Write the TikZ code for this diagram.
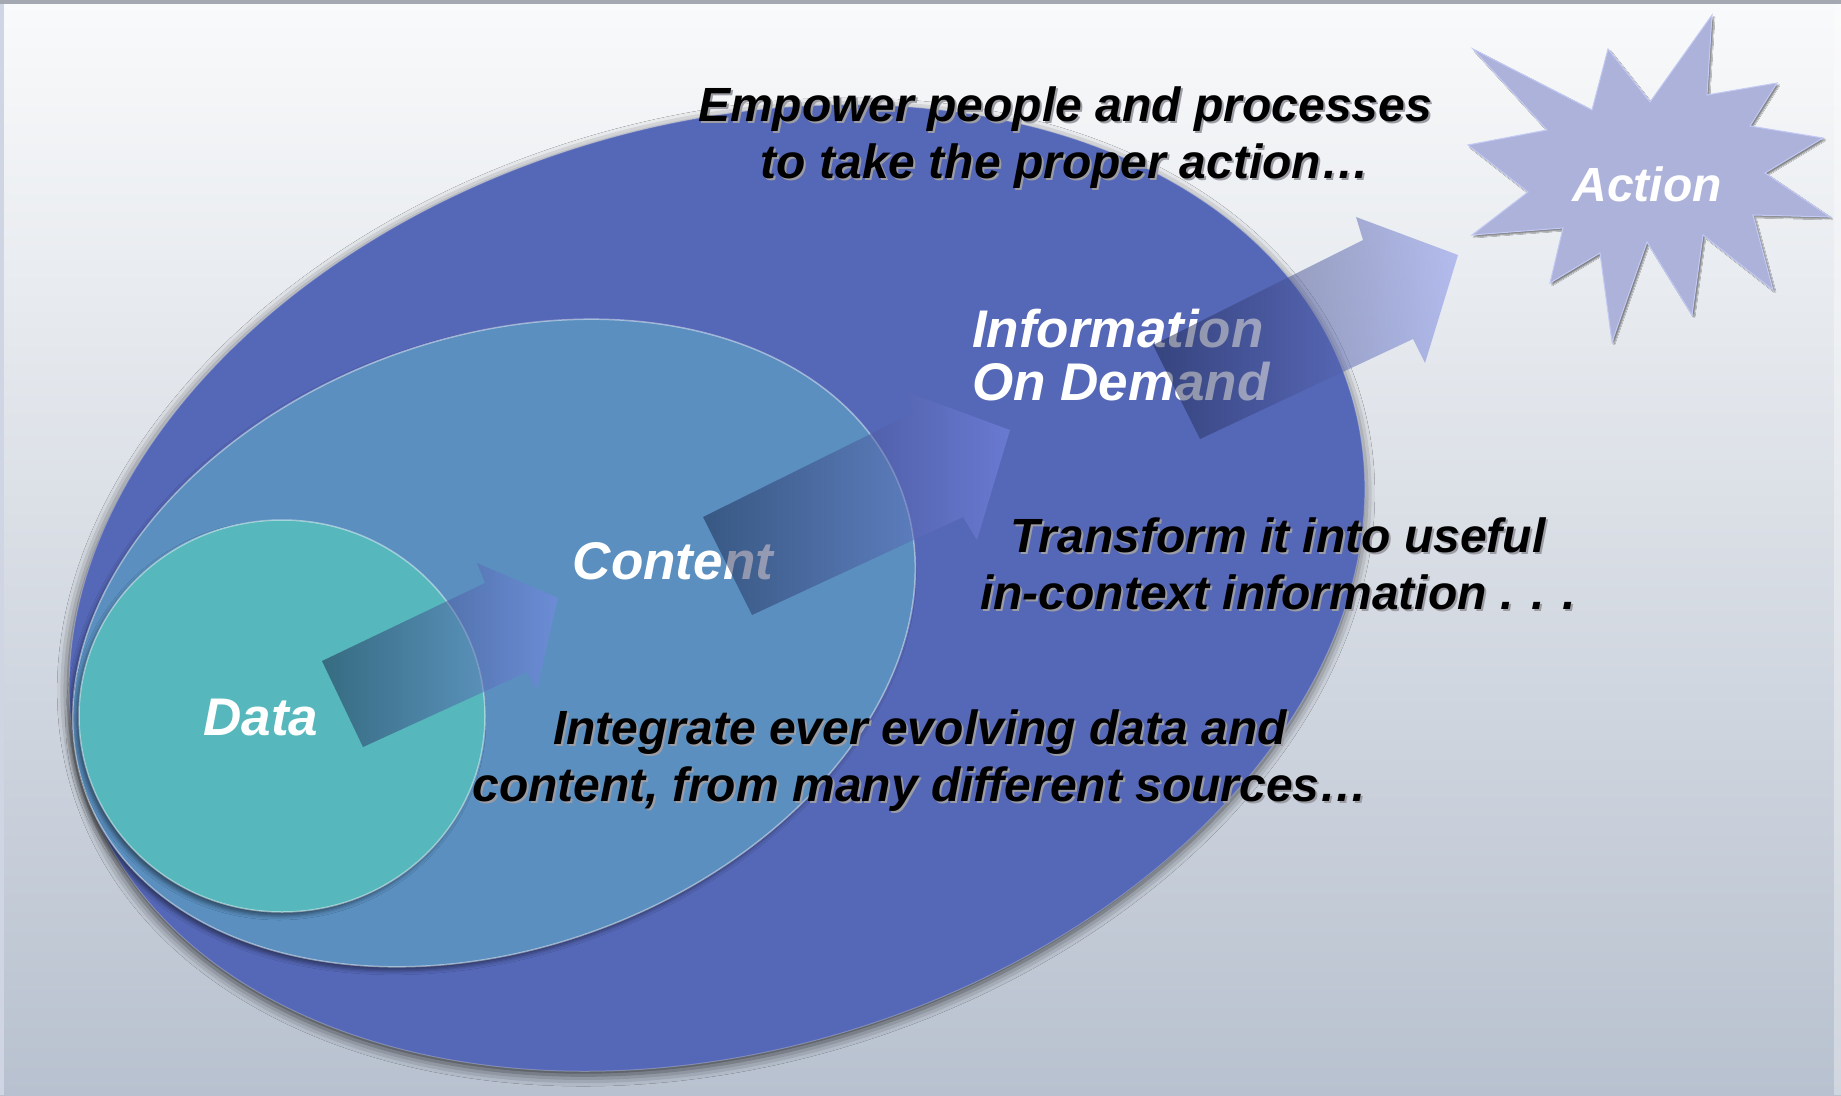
\documentclass[tikz,border=0pt]{standalone}
\usepackage{fontspec}
\setmainfont{Liberation Sans}
\usetikzlibrary{shadows.blur}

\definecolor{bgtop}{HTML}{F9FAFB}
\definecolor{bgbottom}{HTML}{B8C1CF}
\definecolor{framegray}{HTML}{A4A8B0}
\definecolor{frameside}{HTML}{CFD5E2}
\definecolor{outerblue}{HTML}{5567B7}
\definecolor{midblue}{HTML}{5A8FC0}
\definecolor{datateal}{HTML}{56B7BC}
\definecolor{starfill}{HTML}{ADB2DA}
\definecolor{starrim}{HTML}{C2C9F4}
\definecolor{arrowdark}{RGB}{24,34,72}
\definecolor{arrowlight}{RGB}{125,140,235}
\definecolor{txtshadow}{HTML}{9C9CA4}

\pgfdeclarehorizontalshading{flowgrad}{100bp}{color(0bp)=(arrowdark); color(25bp)=(arrowdark);
  color(75bp)=(arrowlight); color(100bp)=(arrowlight)}

\newcommand\drop[1]{\makebox[0pt][l]{\hspace{2pt}\raisebox{-2pt}{\textcolor{txtshadow}{#1}}}#1}

\begin{document}
\begin{tikzpicture}[x=1pt, y=-1pt,
    every node/.style = {inner sep=0pt},
    say/.style = {font=\fontsize{48}{57}\selectfont\bfseries\itshape, align=center},
    tag/.style = {font=\fontsize{53}{53}\selectfont\bfseries\itshape, text=white},
    flow/.style = {shading=flowgrad, shading angle=0, fill opacity=0.5},
    rim/.style = {draw=white, draw opacity=0.45, line width=1.5pt}]
  \useasboundingbox (0,0) rectangle (1841,1095);
  % backdrop
  \shade[top color=bgtop, bottom color=bgbottom] (0,0) rectangle (1841,1095);
  \fill[framegray] (0,0) rectangle (1841,4);
  \fill[frameside] (0,4) rectangle (4,1095);
  \fill[white, opacity=0.35] (1834,4) rectangle (1841,1095);

  % nested sets
  \fill[outerblue, rotate around={17.3:(717,588)}, draw=white, draw opacity=0.25, line width=1pt,
    blur shadow={shadow xshift=-1pt, shadow yshift=-4pt, shadow blur radius=11pt, shadow opacity=70}]
    (717,588) ellipse [x radius=663pt, y radius=462pt];
  \fill[midblue, rotate around={20.5:(494,643)}, rim,
    blur shadow={shadow xshift=-3pt, shadow yshift=-4pt, shadow blur radius=4pt, shadow opacity=45}]
    (494,643) ellipse [x radius=435pt, y radius=305pt];
  \fill[datateal, rim,
    blur shadow={shadow xshift=-3pt, shadow yshift=-4pt, shadow blur radius=4pt, shadow opacity=45}]
    (282,716) ellipse [x radius=203pt, y radius=196pt];

  % burst
  \fill[starfill, draw=starrim, line width=1pt,
    blur shadow={shadow xshift=2pt, shadow yshift=-2pt, shadow blur radius=1pt, shadow opacity=45}]
    (1473,49) -- (1592,110) -- (1608,49) -- (1650,102) -- (1712,15) -- (1707,95)
    -- (1777,83) -- (1750,126) -- (1823,138) -- (1765,173) -- (1830,217) -- (1753,215)
    -- (1773,290) -- (1703,235) -- (1692,315) -- (1647,242) -- (1612,342) -- (1600,253)
    -- (1550,283) -- (1563,228) -- (1472,235) -- (1528,192) -- (1468,145) -- (1547,130) -- cycle;

  % labels
  \node[tag] (data) at (261,718) {Data};
  \node[tag] (content) at (673,561) {Content};
  \node[tag, anchor=west, align=left] (info) at (972,355) {Information\\On Demand};
  \node[tag, font=\fontsize{48}{48}\selectfont\bfseries\itshape] (action) at (1647,184) {Action};

  \node[say] (empower) at (1065,138.5)
    {\drop{Empower people and processes}\\\drop{to take the proper action…}};
  \node[say] (transform) at (1278,565)
    {\drop{Transform it into useful}\\\drop{in-context information . . .}};
  \node[say] (integrate) at (920,762)
    {\drop{Integrate ever evolving data and}\\\drop{content, from many different sources…}};

  % steps
  \shade[flow] (322,661) -- (485,583) -- (477,563) -- (558,598) -- (537,690) -- (527,672) -- (363,747) -- cycle;
  \shade[flow] (703,517) -- (913,413) -- (907,392) -- (1010,430) -- (977,540) -- (963,517) -- (752,615) -- cycle;
  \shade[flow] (1153,345) -- (1363,240) -- (1356,217) -- (1458,255) -- (1425,363) -- (1413,339) -- (1200,439) -- cycle;
\end{tikzpicture}
\end{document}
